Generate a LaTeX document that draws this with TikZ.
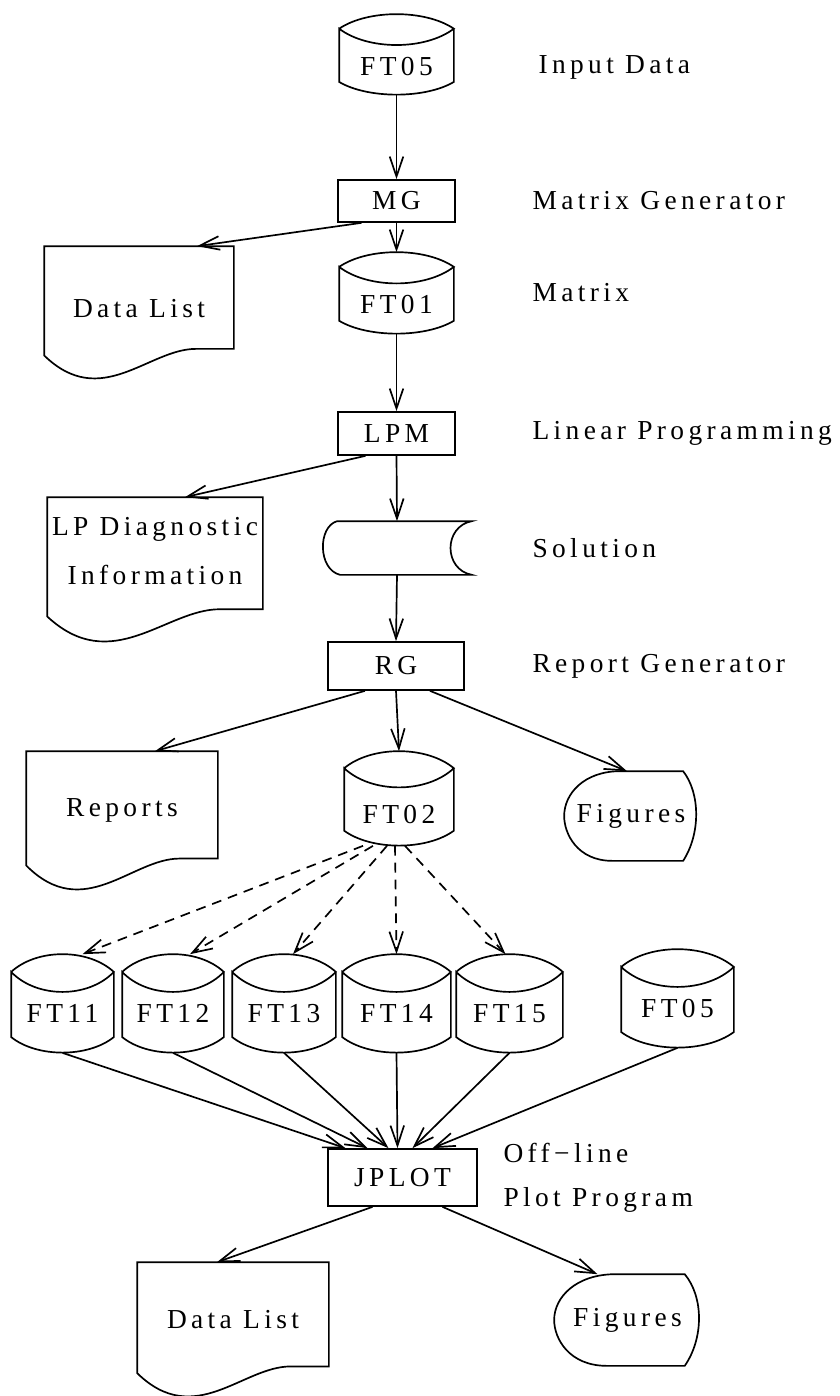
\documentclass[tikz,border=0pt]{standalone}
\usepackage{fontspec}
\setmainfont{Liberation Serif}
\newfontfamily\chartfont{Liberation Serif}[LetterSpace=16]
\usetikzlibrary{arrows.meta,calc,fit}

\newcommand\pu{0.025cm}
% outlines drawn round a fitted node
\newcommand\drawdisk[1]{%
  \draw let \p1=(#1.north west),\p2=(#1.south east),\n1={\y1-\y2},\n2={\x2-\x1} in
    (\x1,\y1-0.18*\n1) .. controls (\x1+0.25*\n2,\y1+0.06*\n1) and (\x2-0.25*\n2,\y1+0.06*\n1) .. (\x2,\y1-0.18*\n1)
    .. controls (\x2-0.25*\n2,\y1-0.45*\n1) and (\x1+0.25*\n2,\y1-0.45*\n1) .. (\x1,\y1-0.18*\n1)
    -- (\x1,\y2+0.16*\n1)
    .. controls (\x1+0.25*\n2,\y2-0.05*\n1) and (\x2-0.25*\n2,\y2-0.05*\n1) .. (\x2,\y2+0.16*\n1)
    -- (\x2,\y1-0.18*\n1);}
\newcommand\drawdoc[1]{%
  \draw let \p1=(#1.north west),\p2=(#1.south east),\n1={\y1-\y2},\n2={\x2-\x1} in
    (\x1,\y2+0.17*\n1) -- (\x1,\y1) -- (\x2,\y1) -- (\x2,\y2+0.22*\n1) -- (\x1+0.8*\n2,\y2+0.22*\n1)
    .. controls (\x1+0.55*\n2,\y2+0.22*\n1) and (\x1+0.3*\n2,\y2-0.25*\n1) .. cycle;}
\newcommand\drawdisplay[1]{%
  \draw let \p1=(#1.north west),\p2=(#1.south east),\n1={\y1-\y2},\n2={\x2-\x1} in
    (\x1+0.42*\n2,\y1) -- (\x1+0.89*\n2,\y1)
    .. controls (\x2+0.02*\n2,\y1-0.25*\n1) and (\x2+0.02*\n2,\y1-0.7*\n1) .. (\x1+0.89*\n2,\y2)
    -- (\x1+0.36*\n2,\y2)
    .. controls (\x1+0.1*\n2,\y2) and (\x1,\y2+0.3*\n1) .. (\x1,\y2+0.5*\n1)
    .. controls (\x1,\y1-0.25*\n1) and (\x1+0.15*\n2,\y1) .. cycle;}
\newcommand\drawstored[1]{%
  \draw let \p1=(#1.north west),\p2=(#1.south east),\n1={\y1-\y2},\n2={\x2-\x1} in
    (\x1+0.1*\n2,\y1) -- (\x2,\y1)
    .. controls (\x2-0.19*\n2,\y1-0.1*\n1) and (\x2-0.19*\n2,\y2+0.1*\n1) .. (\x2,\y2)
    -- (\x1+0.12*\n2,\y2)
    .. controls (\x1-0.03*\n2,\y2+0.1*\n1) and (\x1-0.03*\n2,\y1-0.1*\n1) .. cycle;}

\tikzset{
  outline/.style={inner sep=0pt},
  proc/.style={draw,inner sep=0pt},
  flow/.style={-{Straight Barb[length=5mm,width=3.4mm]}},
  dflow/.style={flow,dash pattern=on 7pt off 5pt},
  note/.style={anchor=west},
}

\begin{document}
\begin{tikzpicture}[x=\pu,y=-\pu,line width=1.2pt,font=\chartfont\fontsize{19.5}{23}\selectfont]
\useasboundingbox (0,0) rectangle (840,1396);

% main chain
\node[outline,fit={(340,15) (453,94)},label={[yshift=-12*\pu]center:FT05}] (ft05) {};
\node[proc,fit={(338,180) (455,222)},label=center:MG] (mg) {};
\node[outline,fit={(45,247) (233,377)},label={[yshift=3*\pu]center:Data List}] (dl1) {};
\node[outline,fit={(340,253) (453,333)},label={[yshift=-12*\pu]center:FT01}] (ft01) {};
\node[proc,fit={(338,412) (455,455)},label=center:LPM] (lpm) {};
\node[outline,fit={(48,498) (262,640)},label={[yshift=18*\pu,align=center]center:{LP Diagnostic\\[12pt]Information}}] (lpd) {};
\node[outline,fit={(323,522) (471,574)}] (sol) {};
\node[proc,fit={(328,642) (464,690)},label=center:RG] (rg) {};
\node[outline,fit={(27,752) (217,888)},label={[yshift=10*\pu]center:Reports}] (rep) {};
\node[outline,fit={(345,752) (453,845)},label={[yshift=-16*\pu]center:FT02}] (ft02) {};
\node[outline,fit={(565,772) (697,860)},label=center:Figures] (fig1) {};

% plot files
\node[outline,fit={(12,955) (113,1052)},label={[yshift=-10*\pu]center:FT11}] (ft11) {};
\node[outline,fit={(123,955) (223,1052)},label={[yshift=-10*\pu]center:FT12}] (ft12) {};
\node[outline,fit={(233,955) (335,1052)},label={[yshift=-10*\pu]center:FT13}] (ft13) {};
\node[outline,fit={(343,955) (450,1052)},label={[yshift=-10*\pu]center:FT14}] (ft14) {};
\node[outline,fit={(457,955) (562,1052)},label={[yshift=-10*\pu]center:FT15}] (ft15) {};
\node[outline,fit={(622,950) (733,1047)},label={[yshift=-10*\pu]center:FT05}] (ft05b) {};
\node[proc,fit={(328,1149) (477,1206)},label=center:JPLOT] (jplot) {};
\node[outline,fit={(138,1263) (328,1395)},label={[yshift=9*\pu]center:Data List}] (dl2) {};
\node[outline,fit={(555,1275) (700,1365)},label=center:Figures] (fig2) {};

\drawdisk{ft05} \drawdisk{ft01} \drawdisk{ft02}
\drawdisk{ft11} \drawdisk{ft12} \drawdisk{ft13} \drawdisk{ft14} \drawdisk{ft15} \drawdisk{ft05b}
\drawdoc{dl1} \drawdoc{lpd} \drawdoc{rep} \drawdoc{dl2}
\drawdisplay{fig1} \drawdisplay{fig2}
\drawstored{sol}

% notes on the right
\node[note] (n1) at (533,67) {Input Data};
\node[note] (n2) at (527,201) {Matrix Generator};
\node[note] (n3) at (527,293) {Matrix};
\node[note] (n4) at (527,433) {Linear Programming};
\node[note] (n5) at (527,548) {Solution};
\node[note] (n6) at (527,666) {Report Generator};
\node[note] (n7) at (498,1153) {Off−line};
\node[note] (n8) at (498,1200) {Plot Program};

% connectors
\draw[flow] (ft05.south) -- (mg.north);
\draw[flow] ([xshift=-35*\pu]mg.south) -- ([xshift=58*\pu]dl1.north);
\draw[flow] (mg.south) -- (ft01.north);
\draw[flow] (ft01.south) -- (lpm.north);
\draw[flow] ([xshift=-31*\pu]lpm.south) -- ([xshift=30*\pu]lpd.north);
\draw[flow] (lpm.south) -- (sol.north);
\draw[flow] (sol.south) -- (rg.north);
\draw[flow] ([xshift=-31*\pu]rg.south) -- ([xshift=33*\pu]rep.north);
\draw[flow] (rg.south) -- (ft02.north);
\draw[flow] ([xshift=34*\pu]rg.south) -- ([xshift=-4*\pu]fig1.north);

\draw[dflow] ([xshift=-36*\pu]ft02.south) -- ([xshift=20*\pu]ft11.north);
\draw[dflow] ([xshift=-26*\pu]ft02.south) -- ([xshift=17*\pu]ft12.north);
\draw[dflow] ([xshift=-12*\pu]ft02.south) -- ([xshift=9*\pu]ft13.north);
\draw[dflow] ([xshift=-4*\pu]ft02.south) -- (ft14.north);
\draw[dflow] ([xshift=6*\pu]ft02.south) -- ([xshift=-4*\pu]ft15.north);

\draw[flow] (ft11.south) -- ([xshift=-57*\pu]jplot.north);
\draw[flow] (ft12.south) -- ([xshift=-35*\pu]jplot.north);
\draw[flow] (ft13.south) -- ([xshift=-14*\pu]jplot.north);
\draw[flow] (ft14.south) -- ([xshift=-5*\pu]jplot.north);
\draw[flow] (ft15.south) -- ([xshift=10*\pu]jplot.north);
\draw[flow] (ft05b.south) -- ([xshift=30*\pu]jplot.north);

\draw[flow] ([xshift=-30*\pu]jplot.south) -- ([xshift=-16*\pu]dl2.north);
\draw[flow] ([xshift=40*\pu]jplot.south) -- ([xshift=-30*\pu]fig2.north);
\end{tikzpicture}
\end{document}
